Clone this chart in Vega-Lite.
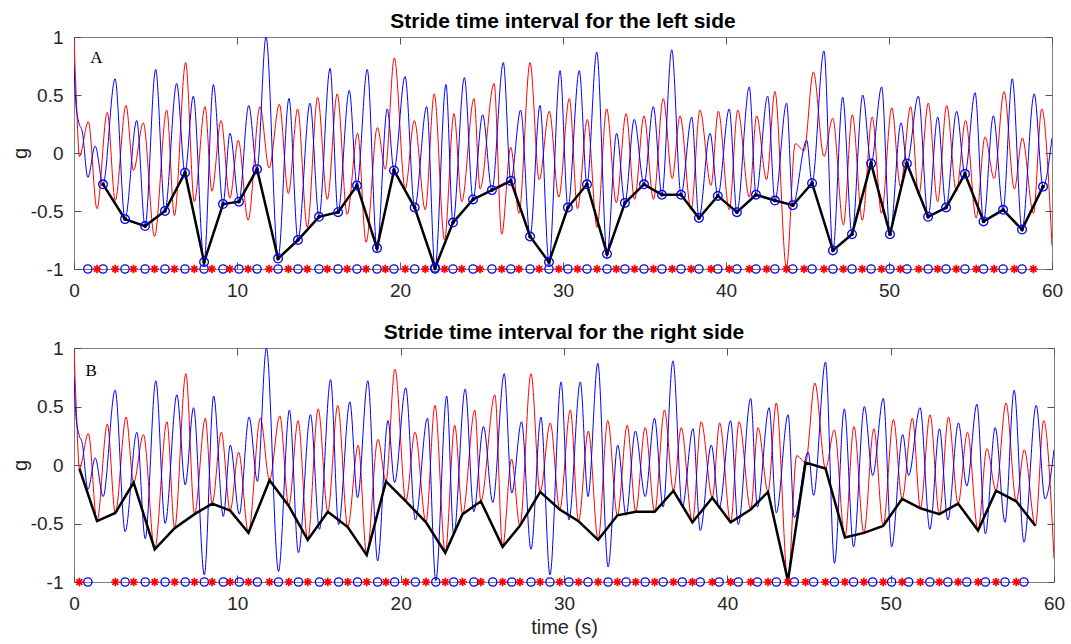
{
"$schema": "https://vega.github.io/schema/vega-lite/v6.json",
"background": "white",
"padding": {"left": 9, "top": 10, "right": 0, "bottom": 0},
"datasets": {
"red": [{"t":0,"g":1.0},{"t":0.15,"g":0.45},{"t":0.33,"g":-0.03,"k":1},{"t":0.88,"g":0.27},{"t":1.41,"g":-0.48,"k":1},{"t":2.04,"g":0.35},{"t":2.53,"g":-0.41,"k":1},{"t":3.19,"g":0.41},{"t":3.65,"g":-0.15,"k":1},{"t":4.25,"g":0.26},{"t":4.94,"g":-0.72,"k":1},{"t":5.69,"g":0.37},{"t":6.16,"g":-0.54,"k":1},{"t":6.85,"g":0.78},{"t":7.38,"g":-0.42,"k":1},{"t":8.04,"g":0.40},{"t":8.46,"g":-0.33,"k":1},{"t":9.02,"g":0.28},{"t":9.56,"g":-0.39,"k":1},{"t":10.08,"g":0.11},{"t":10.68,"g":-0.58,"k":1},{"t":11.41,"g":0.40},{"t":11.97,"g":-0.13,"k":1},{"t":12.6,"g":0.42},{"t":13.15,"g":-0.35,"k":1},{"t":13.72,"g":0.38},{"t":14.31,"g":-0.64,"k":1},{"t":14.95,"g":0.48},{"t":15.54,"g":-0.40,"k":1},{"t":16.15,"g":0.51},{"t":16.76,"g":-0.53,"k":1},{"t":17.4,"g":0.17},{"t":17.92,"g":-0.77,"k":1},{"t":18.61,"g":0.22},{"t":19.1,"g":-0.14,"k":1},{"t":19.65,"g":0.82},{"t":20.32,"g":-0.31,"k":1},{"t":20.88,"g":0.28},{"t":21.55,"g":-0.49,"k":1},{"t":22.1,"g":0.51},{"t":22.73,"g":-0.75,"k":1},{"t":23.31,"g":0.34},{"t":23.79,"g":-0.42,"k":1},{"t":24.54,"g":0.47},{"t":24.91,"g":-0.31,"k":1},{"t":25.77,"g":0.60},{"t":26.24,"g":-0.70,"k":1},{"t":26.79,"g":0.05},{"t":27.3,"g":-0.52,"k":1},{"t":27.98,"g":0.78},{"t":28.54,"g":-0.23,"k":1},{"t":29.16,"g":0.36},{"t":29.74,"g":-0.38,"k":1},{"t":30.39,"g":0.47},{"t":30.89,"g":-0.48,"k":1},{"t":31.49,"g":0.29},{"t":32.09,"g":-0.64,"k":1},{"t":32.68,"g":0.38},{"t":33.27,"g":-0.43,"k":1},{"t":33.87,"g":0.34},{"t":34.39,"g":-0.40,"k":1},{"t":34.97,"g":0.32},{"t":35.55,"g":-0.40,"k":1},{"t":36.15,"g":0.47},{"t":36.7,"g":-0.22,"k":1},{"t":37.18,"g":0.32},{"t":37.86,"g":-0.49,"k":1},{"t":38.4,"g":0.37},{"t":39.08,"g":-0.28,"k":1},{"t":39.53,"g":0.36},{"t":40.2,"g":-0.49,"k":1},{"t":40.72,"g":0.37},{"t":41.43,"g":-0.38,"k":1},{"t":41.88,"g":0.32},{"t":42.49,"g":-0.23,"k":1},{"t":43.0,"g":0.53},{"t":43.71,"g":-0.99,"k":1},{"t":44.25,"g":0.08},{"t":44.79,"g":0.02,"k":1},{"t":45.36,"g":0.70},{"t":46.01,"g":-0.03,"k":1},{"t":46.55,"g":0.30},{"t":47.2,"g":-0.62,"k":1},{"t":47.75,"g":0.33},{"t":48.36,"g":-0.58,"k":1},{"t":48.97,"g":0.31},{"t":49.54,"g":-0.52,"k":1},{"t":50.17,"g":0.39},{"t":50.7,"g":-0.29,"k":1},{"t":51.33,"g":0.40},{"t":51.82,"g":-0.37,"k":1},{"t":52.41,"g":0.43},{"t":52.98,"g":-0.42,"k":1},{"t":53.54,"g":0.41},{"t":54.13,"g":-0.33,"k":1},{"t":54.7,"g":0.28},{"t":55.35,"g":-0.56,"k":1},{"t":55.89,"g":0.14},{"t":56.45,"g":-0.22,"k":1},{"t":57.06,"g":0.53},{"t":57.69,"g":-0.31,"k":1},{"t":58.18,"g":0.13},{"t":58.86,"g":-0.52,"k":1},{"t":59.37,"g":0.38},{"t":60,"g":-0.8}],
"blue": [{"t":0,"g":0.75},{"t":0.1,"g":0.45},{"t":0.3,"g":0.26},{"t":0.5,"g":0.19},{"t":0.85,"g":-0.21},{"t":1.3,"g":0.06},{"t":1.78,"g":-0.27,"k":1},{"t":2.52,"g":0.64},{"t":3.13,"g":-0.57,"k":1},{"t":3.85,"g":0.28},{"t":4.36,"g":-0.63,"k":1},{"t":5.01,"g":0.72},{"t":5.58,"g":-0.50,"k":1},{"t":6.3,"g":0.60},{"t":6.81,"g":-0.17,"k":1},{"t":7.32,"g":0.49},{"t":7.98,"g":-0.94,"k":1},{"t":8.55,"g":0.59},{"t":9.14,"g":-0.44,"k":1},{"t":9.57,"g":0.17},{"t":10.12,"g":-0.42,"k":1},{"t":10.72,"g":0.41},{"t":11.23,"g":-0.14,"k":1},{"t":11.78,"g":1.0},{"t":12.52,"g":-0.91,"k":1},{"t":13.19,"g":0.47},{"t":13.74,"g":-0.75,"k":1},{"t":14.48,"g":0.43},{"t":15.03,"g":-0.55,"k":1},{"t":15.71,"g":0.73},{"t":16.2,"g":-0.51,"k":1},{"t":16.89,"g":0.54},{"t":17.36,"g":-0.28,"k":1},{"t":17.99,"g":0.72},{"t":18.59,"g":-0.82,"k":1},{"t":19.22,"g":0.38},{"t":19.63,"g":-0.15,"k":1},{"t":20.31,"g":0.66},{"t":20.9,"g":-0.47,"k":1},{"t":21.64,"g":0.40},{"t":22.15,"g":-0.99,"k":1},{"t":22.82,"g":0.59},{"t":23.25,"g":-0.60,"k":1},{"t":23.95,"g":0.65},{"t":24.48,"g":-0.40,"k":1},{"t":25.07,"g":0.33},{"t":25.64,"g":-0.32,"k":1},{"t":26.34,"g":0.78},{"t":26.8,"g":-0.24,"k":1},{"t":27.4,"g":0.37},{"t":27.98,"g":-0.72,"k":1},{"t":28.59,"g":0.41},{"t":29.14,"g":-0.94,"k":1},{"t":29.82,"g":0.71},{"t":30.3,"g":-0.47,"k":1},{"t":31.0,"g":0.71},{"t":31.47,"g":-0.27,"k":1},{"t":32.07,"g":0.87},{"t":32.7,"g":-0.87,"k":1},{"t":33.29,"g":0.17},{"t":33.8,"g":-0.43,"k":1},{"t":34.37,"g":0.29},{"t":34.97,"g":-0.27,"k":1},{"t":35.54,"g":0.40},{"t":36.07,"g":-0.36,"k":1},{"t":36.67,"g":0.89},{"t":37.24,"g":-0.36,"k":1},{"t":37.9,"g":0.31},{"t":38.34,"g":-0.56,"k":1},{"t":39.02,"g":0.17},{"t":39.5,"g":-0.37,"k":1},{"t":40.2,"g":0.38},{"t":40.67,"g":-0.51,"k":1},{"t":41.43,"g":0.57},{"t":41.84,"g":-0.36,"k":1},{"t":42.56,"g":0.49},{"t":43.0,"g":-0.41,"k":1},{"t":43.72,"g":0.43},{"t":44.1,"g":-0.45,"k":1},{"t":44.95,"g":0.11},{"t":45.28,"g":-0.26,"k":1},{"t":46.01,"g":0.88},{"t":46.56,"g":-0.84,"k":1},{"t":47.16,"g":0.48},{"t":47.73,"g":-0.70,"k":1},{"t":48.39,"g":0.50},{"t":48.9,"g":-0.09,"k":1},{"t":49.55,"g":0.57},{"t":50.06,"g":-0.70,"k":1},{"t":50.74,"g":0.26},{"t":51.1,"g":-0.09,"k":1},{"t":51.8,"g":0.49},{"t":52.4,"g":-0.55,"k":1},{"t":52.99,"g":0.31},{"t":53.5,"g":-0.47,"k":1},{"t":54.15,"g":0.36},{"t":54.66,"g":-0.18,"k":1},{"t":55.28,"g":0.52},{"t":55.8,"g":-0.59,"k":1},{"t":56.4,"g":0.32},{"t":57.0,"g":-0.49,"k":1},{"t":57.56,"g":0.64},{"t":58.16,"g":-0.66,"k":1},{"t":58.91,"g":0.51},{"t":59.45,"g":-0.29,"k":1},{"t":60,"g":0.13}],
"ground": [{"t":0.33,"g":-1,"s":"R","p":"bot"},{"t":0.85,"g":-1,"s":"L"},{"t":1.41,"g":-1,"s":"R","p":"top"},{"t":1.78,"g":-1,"s":"L","p":"top"},{"t":2.53,"g":-1,"s":"R"},{"t":3.13,"g":-1,"s":"L"},{"t":3.65,"g":-1,"s":"R"},{"t":4.36,"g":-1,"s":"L"},{"t":4.94,"g":-1,"s":"R"},{"t":5.58,"g":-1,"s":"L"},{"t":6.16,"g":-1,"s":"R"},{"t":6.81,"g":-1,"s":"L"},{"t":7.38,"g":-1,"s":"R"},{"t":7.98,"g":-1,"s":"L"},{"t":8.46,"g":-1,"s":"R"},{"t":9.14,"g":-1,"s":"L"},{"t":9.56,"g":-1,"s":"R"},{"t":10.12,"g":-1,"s":"L"},{"t":10.68,"g":-1,"s":"R"},{"t":11.23,"g":-1,"s":"L"},{"t":11.97,"g":-1,"s":"R"},{"t":12.52,"g":-1,"s":"L"},{"t":13.15,"g":-1,"s":"R"},{"t":13.74,"g":-1,"s":"L"},{"t":14.31,"g":-1,"s":"R"},{"t":15.03,"g":-1,"s":"L"},{"t":15.54,"g":-1,"s":"R"},{"t":16.2,"g":-1,"s":"L"},{"t":16.76,"g":-1,"s":"R"},{"t":17.36,"g":-1,"s":"L"},{"t":17.92,"g":-1,"s":"R"},{"t":18.59,"g":-1,"s":"L"},{"t":19.1,"g":-1,"s":"R"},{"t":19.63,"g":-1,"s":"L"},{"t":20.32,"g":-1,"s":"R"},{"t":20.9,"g":-1,"s":"L"},{"t":21.55,"g":-1,"s":"R"},{"t":22.15,"g":-1,"s":"L"},{"t":22.73,"g":-1,"s":"R"},{"t":23.25,"g":-1,"s":"L"},{"t":23.79,"g":-1,"s":"R"},{"t":24.48,"g":-1,"s":"L"},{"t":24.91,"g":-1,"s":"R"},{"t":25.64,"g":-1,"s":"L"},{"t":26.24,"g":-1,"s":"R"},{"t":26.8,"g":-1,"s":"L"},{"t":27.3,"g":-1,"s":"R"},{"t":27.98,"g":-1,"s":"L"},{"t":28.54,"g":-1,"s":"R"},{"t":29.14,"g":-1,"s":"L"},{"t":29.74,"g":-1,"s":"R"},{"t":30.3,"g":-1,"s":"L"},{"t":30.89,"g":-1,"s":"R"},{"t":31.47,"g":-1,"s":"L"},{"t":32.09,"g":-1,"s":"R"},{"t":32.7,"g":-1,"s":"L"},{"t":33.27,"g":-1,"s":"R"},{"t":33.8,"g":-1,"s":"L"},{"t":34.39,"g":-1,"s":"R"},{"t":34.97,"g":-1,"s":"L"},{"t":35.55,"g":-1,"s":"R"},{"t":36.07,"g":-1,"s":"L"},{"t":36.7,"g":-1,"s":"R"},{"t":37.24,"g":-1,"s":"L"},{"t":37.86,"g":-1,"s":"R"},{"t":38.34,"g":-1,"s":"L"},{"t":39.08,"g":-1,"s":"R"},{"t":39.5,"g":-1,"s":"L"},{"t":40.2,"g":-1,"s":"R"},{"t":40.67,"g":-1,"s":"L"},{"t":41.43,"g":-1,"s":"R"},{"t":41.84,"g":-1,"s":"L"},{"t":42.49,"g":-1,"s":"R"},{"t":43.0,"g":-1,"s":"L"},{"t":43.71,"g":-1,"s":"R"},{"t":44.1,"g":-1,"s":"L"},{"t":44.79,"g":-1,"s":"R"},{"t":45.28,"g":-1,"s":"L"},{"t":46.01,"g":-1,"s":"R"},{"t":46.56,"g":-1,"s":"L"},{"t":47.2,"g":-1,"s":"R"},{"t":47.73,"g":-1,"s":"L"},{"t":48.36,"g":-1,"s":"R"},{"t":48.9,"g":-1,"s":"L"},{"t":49.54,"g":-1,"s":"R"},{"t":50.06,"g":-1,"s":"L"},{"t":50.7,"g":-1,"s":"R"},{"t":51.1,"g":-1,"s":"L"},{"t":51.82,"g":-1,"s":"R"},{"t":52.4,"g":-1,"s":"L"},{"t":52.98,"g":-1,"s":"R"},{"t":53.5,"g":-1,"s":"L"},{"t":54.13,"g":-1,"s":"R"},{"t":54.66,"g":-1,"s":"L"},{"t":55.35,"g":-1,"s":"R"},{"t":55.8,"g":-1,"s":"L"},{"t":56.45,"g":-1,"s":"R"},{"t":57.0,"g":-1,"s":"L"},{"t":57.69,"g":-1,"s":"R"},{"t":58.16,"g":-1,"s":"L"},{"t":58.86,"g":-1,"s":"R","p":"top"}]
},
"spacing": 20,
"vconcat": [
{
"width": 978, "height": 232,
"title": {"text": "Stride time interval for the left side"},
"layer": [
 {"data": {"name": "red"}, "mark": {"type": "line", "color": "#ff0000", "strokeWidth": 1, "interpolate": "monotone", "clip": true},
  "encoding": {
   "x": {"field": "t", "type": "quantitative", "scale": {"domain": [0, 60], "nice": false, "zero": false}, "axis": {"orient": "bottom", "values": [0, 10, 20, 30, 40, 50, 60], "title": null}},
   "y": {"field": "g", "type": "quantitative", "scale": {"domain": [-1, 1], "nice": false}, "axis": {"orient": "left", "values": [-1, -0.5, 0, 0.5, 1], "labelExpr": "toString(datum.value)", "title": "g"}}}},
 {"data": {"name": "blue"}, "mark": {"type": "line", "color": "#0000ff", "strokeWidth": 1, "interpolate": "monotone", "clip": true},
  "encoding": {
   "x": {"field": "t", "type": "quantitative", "scale": {"domain": [0, 60], "nice": false, "zero": false}, "axis": {"orient": "top", "values": [0, 10, 20, 30, 40, 50, 60], "labels": false, "title": null}},
   "y": {"field": "g", "type": "quantitative", "scale": {"domain": [-1, 1], "nice": false}, "axis": {"orient": "right", "values": [-1, -0.5, 0, 0.5, 1], "labels": false, "title": null}}}},
 {"data": {"name": "blue"}, "transform": [{"filter": "datum.k == 1"}], "mark": {"type": "line", "color": "#000000", "strokeWidth": 2.5},
  "encoding": {"x": {"field": "t", "type": "quantitative", "axis": null}, "y": {"field": "g", "type": "quantitative", "axis": null}}},
 {"data": {"name": "blue"}, "transform": [{"filter": "datum.k == 1"}], "mark": {"type": "point", "shape": "circle", "filled": false, "color": "#0000ff", "size": 75, "strokeWidth": 1.3, "opacity": 1},
  "encoding": {"x": {"field": "t", "type": "quantitative", "axis": null}, "y": {"field": "g", "type": "quantitative", "axis": null}}},
 {"data": {"name": "blue"}, "transform": [{"filter": "datum.k == 1"}], "mark": {"type": "point", "shape": "circle", "filled": true, "color": "#000000", "size": 14, "opacity": 1},
  "encoding": {"x": {"field": "t", "type": "quantitative", "axis": null}, "y": {"field": "g", "type": "quantitative", "axis": null}}},
 {"data": {"name": "ground"}, "transform": [{"filter": "datum.p != 'bot' && datum.s == 'L'"}], "mark": {"type": "point", "shape": "circle", "filled": false, "color": "#0000ff", "size": 68, "strokeWidth": 1.3, "opacity": 1, "clip": false},
  "encoding": {"x": {"field": "t", "type": "quantitative", "axis": null}, "y": {"field": "g", "type": "quantitative", "axis": null}}},
 {"data": {"name": "ground"}, "transform": [{"filter": "datum.p != 'bot' && datum.s == 'R'"}], "mark": {"type": "point", "shape": "M-1,0L1,0M0,-1L0,1M-0.7,-0.7L0.7,0.7M-0.7,0.7L0.7,-0.7", "filled": false, "color": "#ff0000", "size": 72, "strokeWidth": 1.7, "opacity": 1, "clip": false},
  "encoding": {"x": {"field": "t", "type": "quantitative", "axis": null}, "y": {"field": "g", "type": "quantitative", "axis": null}}},
 {"data": {"values": [{"label": "A"}]}, "mark": {"type": "text", "font": "Liberation Serif", "fontSize": 17, "align": "left", "baseline": "alphabetic", "color": "#000000"},
  "encoding": {"x": {"datum": 1.0, "type": "quantitative", "scale": {"domain": [0, 60], "nice": false, "zero": false}, "axis": null}, "y": {"datum": 0.78, "type": "quantitative", "scale": {"domain": [-1, 1], "nice": false}, "axis": null}, "text": {"field": "label", "type": "nominal"}}}
],
"resolve": {"axis": {"x": "independent", "y": "independent"}}
},
{
"width": 980, "height": 234,
"title": {"text": "Stride time interval for the right side"},
"layer": [
 {"data": {"name": "red"}, "mark": {"type": "line", "color": "#ff0000", "strokeWidth": 1, "interpolate": "monotone", "clip": true},
  "encoding": {
   "x": {"field": "t", "type": "quantitative", "scale": {"domain": [0, 60], "nice": false, "zero": false}, "axis": {"orient": "bottom", "values": [0, 10, 20, 30, 40, 50, 60], "title": "time (s)"}},
   "y": {"field": "g", "type": "quantitative", "scale": {"domain": [-1, 1], "nice": false}, "axis": {"orient": "left", "values": [-1, -0.5, 0, 0.5, 1], "labelExpr": "toString(datum.value)", "title": "g"}}}},
 {"data": {"name": "blue"}, "mark": {"type": "line", "color": "#0000ff", "strokeWidth": 1, "interpolate": "monotone", "clip": true},
  "encoding": {
   "x": {"field": "t", "type": "quantitative", "scale": {"domain": [0, 60], "nice": false, "zero": false}, "axis": {"orient": "top", "values": [0, 10, 20, 30, 40, 50, 60], "labels": false, "title": null}},
   "y": {"field": "g", "type": "quantitative", "scale": {"domain": [-1, 1], "nice": false}, "axis": {"orient": "right", "values": [-1, -0.5, 0, 0.5, 1], "labels": false, "title": null}}}},
 {"data": {"name": "red"}, "transform": [{"filter": "datum.k == 1"}], "mark": {"type": "line", "color": "#000000", "strokeWidth": 2.5},
  "encoding": {"x": {"field": "t", "type": "quantitative", "axis": null}, "y": {"field": "g", "type": "quantitative", "axis": null}}},
 {"data": {"name": "ground"}, "transform": [{"filter": "datum.p != 'top' && datum.s == 'L'"}], "mark": {"type": "point", "shape": "circle", "filled": false, "color": "#0000ff", "size": 68, "strokeWidth": 1.3, "opacity": 1, "clip": false},
  "encoding": {"x": {"field": "t", "type": "quantitative", "axis": null}, "y": {"field": "g", "type": "quantitative", "axis": null}}},
 {"data": {"name": "ground"}, "transform": [{"filter": "datum.p != 'top' && datum.s == 'R'"}], "mark": {"type": "point", "shape": "M-1,0L1,0M0,-1L0,1M-0.7,-0.7L0.7,0.7M-0.7,0.7L0.7,-0.7", "filled": false, "color": "#ff0000", "size": 72, "strokeWidth": 1.7, "opacity": 1, "clip": false},
  "encoding": {"x": {"field": "t", "type": "quantitative", "axis": null}, "y": {"field": "g", "type": "quantitative", "axis": null}}},
 {"data": {"values": [{"label": "B"}]}, "mark": {"type": "text", "font": "Liberation Serif", "fontSize": 17, "align": "left", "baseline": "alphabetic", "color": "#000000"},
  "encoding": {"x": {"datum": 0.7, "type": "quantitative", "scale": {"domain": [0, 60], "nice": false, "zero": false}, "axis": null}, "y": {"datum": 0.76, "type": "quantitative", "scale": {"domain": [-1, 1], "nice": false}, "axis": null}, "text": {"field": "label", "type": "nominal"}}}
],
"resolve": {"axis": {"x": "independent", "y": "independent"}}
}
],
"config": {
 "font": "Liberation Sans",
 "view": {"stroke": "#7f7f7f", "strokeWidth": 1},
 "axis": {"grid": false, "domain": false, "labelFont": "Liberation Sans", "labelFontSize": 19, "labelColor": "#262626", "titleFont": "Liberation Sans", "titleFontSize": 20, "titleFontWeight": "normal", "titleColor": "#262626", "tickColor": "#555555", "tickSize": -7, "tickWidth": 1, "labelFlush": false},
 "axisX": {"labelPadding": 19, "titlePadding": 4},
 "axisY": {"labelPadding": 18, "titlePadding": 0},
 "title": {"font": "Liberation Sans", "fontSize": 21, "fontWeight": "bold", "color": "#000000", "offset": -4, "anchor": "middle", "frame": "group"}
}
}
